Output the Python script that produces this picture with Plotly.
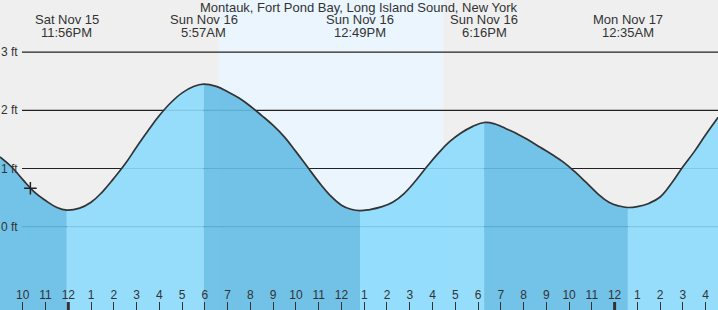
import plotly.graph_objects as go

# ---- data ----
times = [
    "2025-11-15 21:00", "2025-11-15 21:30", "2025-11-15 22:00", "2025-11-15 22:30",
    "2025-11-15 23:00", "2025-11-15 23:30", "2025-11-15 23:56",
    "2025-11-16 00:30", "2025-11-16 01:00", "2025-11-16 01:30", "2025-11-16 02:00",
    "2025-11-16 02:30", "2025-11-16 03:00", "2025-11-16 03:30", "2025-11-16 04:00",
    "2025-11-16 04:30", "2025-11-16 05:00", "2025-11-16 05:30", "2025-11-16 05:57",
    "2025-11-16 06:30", "2025-11-16 07:00", "2025-11-16 07:30", "2025-11-16 08:00",
    "2025-11-16 08:30", "2025-11-16 09:00", "2025-11-16 09:30", "2025-11-16 10:00",
    "2025-11-16 10:30", "2025-11-16 11:00", "2025-11-16 11:30", "2025-11-16 12:00",
    "2025-11-16 12:25", "2025-11-16 12:49",
    "2025-11-16 13:15", "2025-11-16 13:45", "2025-11-16 14:15", "2025-11-16 14:45",
    "2025-11-16 15:15", "2025-11-16 15:45", "2025-11-16 16:15", "2025-11-16 16:45",
    "2025-11-16 17:15", "2025-11-16 17:45", "2025-11-16 18:16",
    "2025-11-16 18:45", "2025-11-16 19:15", "2025-11-16 19:45", "2025-11-16 20:15",
    "2025-11-16 20:45", "2025-11-16 21:15", "2025-11-16 21:45", "2025-11-16 22:15",
    "2025-11-16 22:45", "2025-11-16 23:15", "2025-11-16 23:45", "2025-11-17 00:12",
    "2025-11-17 00:35",
    "2025-11-17 01:00", "2025-11-17 01:30", "2025-11-17 02:00", "2025-11-17 02:30",
    "2025-11-17 03:00", "2025-11-17 03:30", "2025-11-17 04:00", "2025-11-17 04:33",
]
heights = [
    1.20, 1.03, 0.81, 0.60,
    0.45, 0.33, 0.285,
    0.32, 0.42, 0.60, 0.83,
    1.08, 1.37, 1.65, 1.91,
    2.13, 2.30, 2.41, 2.45,
    2.41, 2.32, 2.21, 2.07,
    1.91, 1.74, 1.54, 1.29,
    1.03, 0.77, 0.54, 0.37,
    0.30, 0.275,
    0.295, 0.34, 0.42, 0.57,
    0.785, 1.03, 1.26, 1.46,
    1.61, 1.72, 1.79,
    1.765, 1.68, 1.59, 1.48,
    1.36, 1.24, 1.11, 0.945,
    0.76, 0.57, 0.42, 0.355,
    0.33,
    0.345, 0.40, 0.51, 0.745,
    1.03, 1.29, 1.58, 1.88,
]

extreme_times = ["2025-11-15 23:56", "2025-11-16 05:57", "2025-11-16 12:49",
                 "2025-11-16 18:16", "2025-11-17 00:35"]
extreme_day_labels = ["Sat Nov 15", "Sun Nov 16", "Sun Nov 16", "Sun Nov 16", "Mon Nov 17"]
extreme_time_labels = ["11:56PM", "5:57AM", "12:49PM", "6:16PM", "12:35AM"]

daylight = ("2025-11-16 06:37", "2025-11-16 16:29")
midnights = ["2025-11-16 00:00", "2025-11-17 00:00"]
now_time = ["2025-11-15 22:20"]
now_height = [0.66]

y_levels = [0, 1, 2, 3]
y_labels = ["0 ft", "1 ft", "2 ft", "3 ft"]

title_text = "Montauk, Fort Pond Bay, Long Island Sound, New York"

x_range = ["2025-11-15 20:59:56", "2025-11-17 04:32:32"]
y_range = [-1.431, 3.895]

W, H = 718, 310
FONT = "Liberation Sans, Arial, sans-serif"
TXT = "#333333"
LIGHT = "rgba(140,218,253,0.9)"
DARK = "rgba(101,188,229,0.9)"
BASE = -3
SMOOTH = 1.2

fig = go.Figure()

# ---- filled segments (falling = dark, rising = light) ----
split_idx = [0] + [times.index(t) for t in extreme_times] + [len(times) - 1]
for k in range(len(split_idx) - 1):
    a, b = split_idx[k], split_idx[k + 1]
    xs = times[a:b + 1]
    ys = heights[a:b + 1]
    color = DARK if k % 2 == 0 else LIGHT
    fig.add_trace(go.Scatter(x=[xs[0], xs[-1]], y=[BASE, BASE], mode="lines",
                             line=dict(width=0), hoverinfo="skip", showlegend=False))
    fig.add_trace(go.Scatter(x=xs, y=ys, mode="lines", fill="tonexty", fillcolor=color,
                             line=dict(width=0, shape="spline", smoothing=SMOOTH, color=color),
                             hoverinfo="skip", showlegend=False))

# ---- tide curve ----
fig.add_trace(go.Scatter(x=times, y=heights, mode="lines",
                         line=dict(color="#333333", width=1.7, shape="spline",
                                   smoothing=SMOOTH),
                         showlegend=False))

# ---- current time marker ----
fig.add_trace(go.Scatter(x=now_time, y=now_height, mode="markers",
                         marker=dict(symbol="cross-thin", size=9,
                                     line=dict(color="#222222", width=1.5)),
                         showlegend=False))

shapes = []
# daylight background
shapes.append(dict(type="rect", xref="x", yref="paper", x0=daylight[0], x1=daylight[1],
                   y0=0, y1=1, fillcolor="#eaf5fe", line=dict(width=0), layer="below"))
# gridlines
for lv in y_levels:
    shapes.append(dict(type="line", xref="paper", yref="y", x0=22 / W, x1=1, y0=lv, y1=lv,
                       line=dict(color="#222222", width=1.2), layer="below"))
# thick midnight ticks
for m in midnights:
    shapes.append(dict(type="line", xref="x", yref="paper", x0=m, x1=m, y0=0, y1=8 / H,
                       line=dict(color="#333333", width=3), layer="above"))

annotations = []
for lv, lab in zip(y_levels, y_labels):
    annotations.append(dict(x=20 / W, y=lv, xref="paper", yref="y", text=lab,
                            showarrow=False, xanchor="right", yanchor="middle",
                            font=dict(family=FONT, size=12, color=TXT)))
for t, d, tl in zip(extreme_times, extreme_day_labels, extreme_time_labels):
    annotations.append(dict(x=t, y=1 - 20 / H, xref="x", yref="paper", text=d,
                            showarrow=False, xanchor="center", yanchor="middle",
                            font=dict(family=FONT, size=13, color=TXT)))
    annotations.append(dict(x=t, y=1 - 32 / H, xref="x", yref="paper", text=tl,
                            showarrow=False, xanchor="center", yanchor="middle",
                            font=dict(family=FONT, size=13, color=TXT)))
annotations.append(dict(x=0.5, y=1 - 7 / H, xref="paper", yref="paper", text=title_text,
                        showarrow=False, xanchor="center", yanchor="middle",
                        font=dict(family=FONT, size=13, color=TXT)))

fig.update_layout(
    width=W, height=H,
    margin=dict(l=0, r=0, t=0, b=0, pad=0),
    paper_bgcolor="#efefef", plot_bgcolor="#efefef",
    shapes=shapes, annotations=annotations,
    showlegend=False,
    xaxis=dict(type="date", range=x_range, dtick=3600000, tick0="2025-11-15 00:00",
               tickformat="%-I", ticks="inside", ticklen=8, tickwidth=1,
               tickcolor="#333333", ticklabelposition="inside",
               tickfont=dict(family=FONT, size=12, color=TXT),
               showgrid=False, zeroline=False, showline=False, fixedrange=True),
    yaxis=dict(range=y_range, visible=False, showgrid=False, zeroline=False,
               fixedrange=True),
)

fig.write_html("out.html", config=dict(displayModeBar=False))
